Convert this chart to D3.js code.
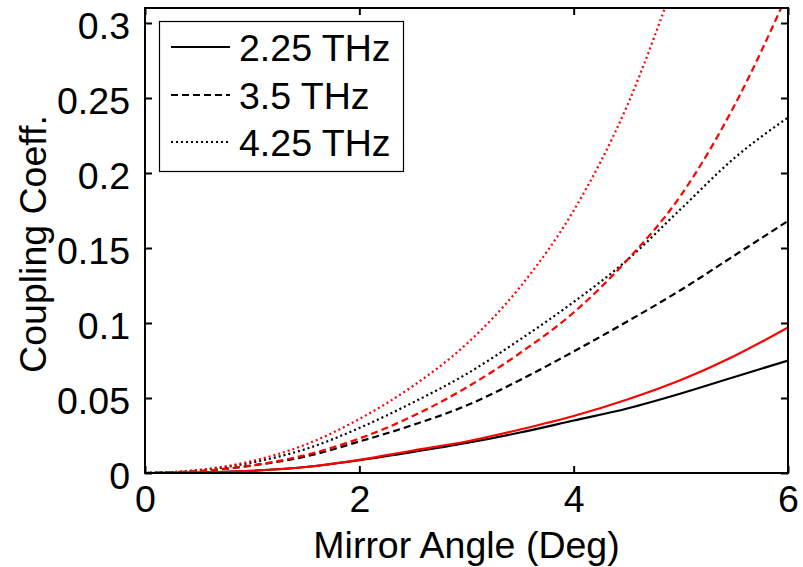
<!DOCTYPE html>
<html>
<head>
<meta charset="utf-8">
<script src="https://cdn.jsdelivr.net/npm/d3@7"></script>
<style>
  html, body { margin: 0; padding: 0; background: #fff; }
  svg text { font-family: "Liberation Sans", Arial, Helvetica, sans-serif; fill: #000; }
</style>
</head>
<body>
<svg id="chart" width="803" height="567"></svg>
<script>
// Mirror angle (degrees) sample points
const angles = [0, 0.5, 1, 1.5, 2, 2.5, 3, 3.5, 4, 4.5, 5, 5.5, 6];

// Coupling coefficient, black curves
const black225 = [0, 0.0003, 0.0015, 0.004, 0.0085, 0.014, 0.020, 0.027, 0.035, 0.043, 0.053, 0.064, 0.075];
const black350 = [0, 0.0012, 0.005, 0.011, 0.021, 0.032, 0.045, 0.062, 0.081, 0.101, 0.122, 0.145, 0.168];
const black425 = [0, 0.0018, 0.007, 0.016, 0.030, 0.047, 0.066, 0.089, 0.114, 0.142, 0.176, 0.210, 0.237];

// Coupling coefficient, red curves
const red225 = [0, 0.0003, 0.0015, 0.004, 0.0088, 0.015, 0.021, 0.029, 0.038, 0.049, 0.062, 0.078, 0.097];
const red350 = [0, 0.0012, 0.005, 0.012, 0.023, 0.038, 0.057, 0.080, 0.107, 0.142, 0.185, 0.245, 0.320];
const red425 = [0, 0.002, 0.008, 0.019, 0.036, 0.058, 0.086, 0.124, 0.175, 0.245, 0.340];

const legendLabels = ["2.25 THz", "3.5 THz", "4.25 THz"];
const xTicks = [0, 2, 4, 6];
const yTicks = [0, 0.05, 0.1, 0.15, 0.2, 0.25, 0.3];

const FONT = 37.5;
const svg = d3.select("#chart");
const pLeft = 145, pRight = 788, pTop = 8, pBottom = 473;

const x = d3.scaleLinear().domain([0, 6]).range([pLeft, pRight]);
const y = d3.scaleLinear().domain([0, 0.31]).range([pBottom, pTop]);

const dashFor = ["none", "7,4", "2,3"];

const series = [
  { vals: black225, color: "#000", dash: dashFor[0] },
  { vals: black350, color: "#000", dash: dashFor[1] },
  { vals: black425, color: "#000", dash: dashFor[2] },
  { vals: red225, color: "#ff0000", dash: dashFor[0] },
  { vals: red350, color: "#ff0000", dash: dashFor[1] },
  { vals: red425, color: "#ff0000", dash: dashFor[2] }
];

svg.append("defs").append("clipPath").attr("id", "plotClip")
  .append("rect").attr("x", pLeft).attr("y", pTop)
  .attr("width", pRight - pLeft).attr("height", pBottom - pTop);

const line = d3.line()
  .x(d => x(d[0]))
  .y(d => y(d[1]))
  .curve(d3.curveMonotoneX);

const plot = svg.append("g").attr("clip-path", "url(#plotClip)");
series.forEach(s => {
  const pts = s.vals.map((v, i) => [angles[i], v]);
  plot.append("path")
    .attr("d", line(pts))
    .attr("fill", "none")
    .attr("stroke", s.color)
    .attr("stroke-width", 2.2)
    .attr("stroke-dasharray", s.dash);
});

// Axes on all four sides with inward ticks
const tickLen = 7;
const axisG = svg.append("g");
const bottomAxis = d3.axisBottom(x).tickValues(xTicks).tickSizeInner(-tickLen).tickSizeOuter(0)
  .tickPadding(12).tickFormat(d3.format("d"));
const leftAxis = d3.axisLeft(y).tickValues(yTicks).tickSizeInner(-tickLen).tickSizeOuter(0)
  .tickPadding(15).tickFormat(d => d === 0 ? "0" : String(+d.toFixed(2)));
const topAxis = d3.axisTop(x).tickValues(xTicks).tickSizeInner(-tickLen).tickSizeOuter(0).tickFormat("");
const rightAxis = d3.axisRight(y).tickValues(yTicks).tickSizeInner(-tickLen).tickSizeOuter(0).tickFormat("");

axisG.append("g").attr("class", "ax-bottom").attr("transform", `translate(0,${pBottom})`).call(bottomAxis);
axisG.append("g").attr("class", "ax-left").attr("transform", `translate(${pLeft},0)`).call(leftAxis);
axisG.append("g").attr("transform", `translate(0,${pTop})`).call(topAxis);
axisG.append("g").attr("transform", `translate(${pRight},0)`).call(rightAxis);

axisG.selectAll(".domain").remove();
axisG.selectAll(".tick line").attr("stroke", "#000").attr("stroke-width", 2);
axisG.selectAll(".tick text").attr("font-size", FONT)
  .attr("font-family", "'Liberation Sans', Arial, sans-serif").attr("fill", "#000");
axisG.selectAll(".ax-left .tick text").attr("dy", "0.4em");

// Box
svg.append("rect").attr("x", pLeft).attr("y", pTop)
  .attr("width", pRight - pLeft).attr("height", pBottom - pTop)
  .attr("fill", "none").attr("stroke", "#000").attr("stroke-width", 2);

// Axis titles
svg.append("text").attr("x", (pLeft + pRight) / 2).attr("y", 558)
  .attr("text-anchor", "middle").attr("font-size", FONT).text("Mirror Angle (Deg)");
svg.append("text").attr("transform", `translate(46,244) rotate(-90)`)
  .attr("text-anchor", "middle").attr("font-size", FONT).text("Coupling Coeff.");

// Legend
const lg = svg.append("g");
lg.append("rect").attr("x", 159.5).attr("y", 21.5).attr("width", 244).attr("height", 150)
  .attr("fill", "#fff").attr("stroke", "#000").attr("stroke-width", 1.2);
const rowY = [47, 95, 142];
legendLabels.forEach((lab, i) => {
  lg.append("line").attr("x1", 171).attr("x2", 230).attr("y1", rowY[i]).attr("y2", rowY[i])
    .attr("stroke", "#000").attr("stroke-width", 2).attr("stroke-dasharray", dashFor[i]);
  lg.append("text").attr("x", 239).attr("y", rowY[i] + 14)
    .attr("font-size", FONT).text(lab);
});
</script>
</body>
</html>
